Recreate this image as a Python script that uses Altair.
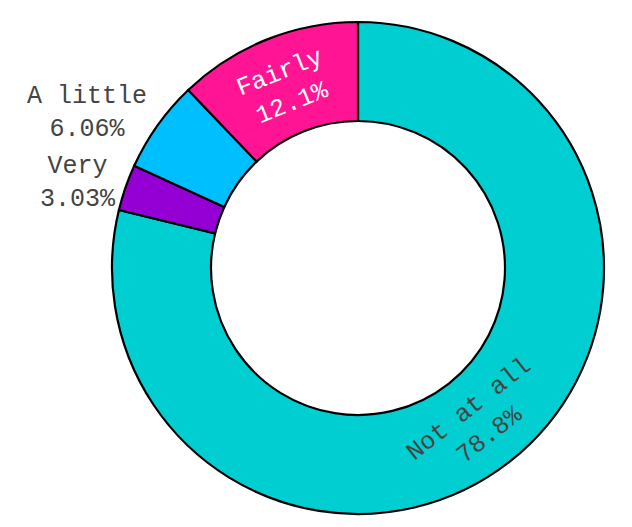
import altair as alt
import pandas as pd

# ---- data ----
labels = ["Not at all", "Very", "A little", "Fairly"]
counts = [26, 1, 2, 4]
slice_order = [0, 1, 2, 3]
palette = ["#00CED1", "#9400D3", "#00BFFF", "#FF1493"]

df = pd.DataFrame({"label": labels, "count": counts, "rank": slice_order})

# ---- layout / style constants ----
CX, CY = 350, 260
R_OUT, R_IN = 246, 147
FS = 25
LH = 33
FONT = "Liberation Mono"

base = (
    alt.Chart(df)
    .transform_joinaggregate(total="sum(count)")
    .transform_window(cum="sum(count)", sort=[alt.SortField("rank")], frame=[None, 0])
    .transform_calculate(
        share="datum.count / datum.total",
        mid="(datum.cum - datum.count / 2) / datum.total * 2 * PI",
        pct="format(datum.count / datum.total, '.3p')",
    )
    .transform_calculate(lines="[datum.label, datum.pct]")
)

arcs = base.mark_arc(
    outerRadius=R_OUT, innerRadius=R_IN, stroke="black", strokeWidth=2.2
).encode(
    theta=alt.Theta("count:Q", stack=True),
    order=alt.Order("rank:Q"),
    color=alt.Color("label:N", scale=alt.Scale(domain=labels, range=palette), legend=None),
    x=alt.value(CX),
    y=alt.value(CY),
)

inside = (
    base.transform_filter("datum.share >= 0.1")
    .transform_calculate(
        rot="(datum.mid > PI / 2 && datum.mid < 3 * PI / 2 ? datum.mid * 180 / PI + 180 : datum.mid * 180 / PI) % 360"
    )
    .mark_text(font=FONT, fontSize=FS, lineHeight=LH, align="center", baseline="middle", dy=-LH / 2)
    .encode(
        theta=alt.Theta("mid:Q", scale=None, stack=False),
        radius=alt.value(195),
        x=alt.value(CX),
        y=alt.value(CY),
        text=alt.Text("lines:N"),
        angle=alt.Angle("rot:Q", scale=None),
        color=alt.condition("datum.label == 'Fairly'", alt.value("white"), alt.value("#444444")),
    )
)

outside = (
    base.transform_filter("datum.share < 0.1")
    .transform_calculate(
        px=f"{R_OUT} * sin(datum.mid)",
        py=f"-{R_OUT} * cos(datum.mid)",
        bw=f"max(length(datum.label), length(datum.pct)) * {0.6 * FS}",
        bh=f"2 * {LH}",
    )
    .transform_calculate(
        hx="(datum.px < 0 ? -1 : 1) * datum.bw / 2",
        hy="(datum.py < 0 ? -1 : 1) * datum.bh / 2",
    )
    .transform_calculate(
        ox="datum.px + datum.hx + (datum.hx > 0 ? 1 : -1) * abs(datum.hy) / 2",
        oy="datum.py + datum.hy / (1 + datum.px * datum.px / (datum.py * datum.py))",
    )
    .transform_calculate(
        lt="atan2(datum.ox, -datum.oy)",
        lr="sqrt(datum.ox * datum.ox + datum.oy * datum.oy)",
    )
    .mark_text(font=FONT, fontSize=FS, lineHeight=LH, align="center", baseline="middle",
               dx=6, dy=-LH / 2 - 3, color="#444444")
    .encode(
        theta=alt.Theta("lt:Q", scale=None, stack=False),
        radius=alt.Radius("lr:Q", scale=None),
        x=alt.value(CX),
        y=alt.value(CY),
        text=alt.Text("lines:N"),
    )
)

chart = (
    alt.layer(arcs, inside, outside)
    .resolve_scale(theta="independent", radius="independent")
    .properties(width=616, height=511, padding=0)
    .configure_view(stroke=None)
)

chart.save("out.html", embed_options={"renderer": "svg", "actions": False})
